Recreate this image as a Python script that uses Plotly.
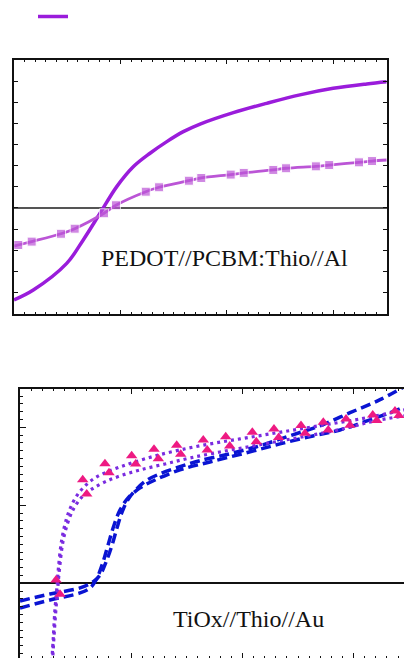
import plotly.graph_objects as go

# ---------------- top panel data ----------------
top_solid_x = [-0.4, -0.3275, -0.202, -0.140, -0.077, -0.014, 0.048, 0.111, 0.174,
               0.236, 0.299, 0.424, 0.549, 0.674, 0.799, 0.925, 1.0]
top_solid_y = [-4.35, -3.88, -2.62, -1.51, -0.25, 1.01, 1.95, 2.59, 3.14,
               3.61, 3.97, 4.51, 4.95, 5.35, 5.66, 5.87, 5.97]

top_sq_x = [-0.4, -0.384, -0.3335, -0.2235, -0.172, -0.062, -0.017, 0.095, 0.145, 0.257,
            0.3035, 0.414, 0.463, 0.574, 0.622, 0.734, 0.784, 0.896, 0.945, 1.0]
top_sq_y = [-1.80, -1.75, -1.59, -1.22, -0.98, -0.25, 0.13, 0.77, 0.98, 1.29,
            1.42, 1.58, 1.66, 1.80, 1.88, 1.97, 2.03, 2.16, 2.22, 2.27]

# ---------------- bottom panel data ----------------
blue_a_x = [-0.5, -0.365, -0.230, -0.172, -0.140, -0.113, -0.086, -0.064, -0.042, -0.015,
            0.0216, 0.0666, 0.1295, 0.219, 0.309, 0.444, 0.579, 0.714, 0.849, 0.984, 1.119, 1.227]
blue_a_y = [-2.27, -1.37, -0.60, 0.17, 1.06, 2.73, 4.91, 7.09, 9.04, 10.71,
            11.99, 13.14, 14.04, 14.94, 15.71, 16.60, 17.63, 18.91, 20.19, 21.86, 23.53, 25.19]

blue_b_x = [-0.5, -0.365, -0.230, -0.185, -0.158, -0.131, -0.104, -0.077, -0.050, -0.014,
            0.040, 0.107, 0.219, 0.354, 0.516, 0.669, 0.817, 0.939, 1.060, 1.150, 1.227]
blue_b_y = [-3.17, -2.14, -1.24, -0.60, 0.42, 2.35, 4.91, 7.47, 9.40, 10.94,
            12.22, 13.24, 14.53, 15.55, 16.71, 17.86, 18.88, 19.65, 20.81, 21.71, 22.60]

dot_a_x = [-0.357, -0.350, -0.343, -0.335, -0.328, -0.3125, -0.290, -0.2675, -0.239, -0.203,
           -0.163, -0.109, -0.050, 0.017, 0.107, 0.219, 0.354, 0.489, 0.624, 0.759,
           0.894, 1.029, 1.164, 1.227]
dot_a_y = [-10.0, -6.85, -3.42, -0.86, 1.71, 5.55, 8.37, 10.04, 11.45, 12.60,
           13.50, 14.27, 14.91, 15.55, 16.32, 17.09, 17.86, 18.50, 19.14, 19.78,
           20.42, 21.06, 21.83, 22.22]

dot_b_x = [-0.354, -0.347, -0.338, -0.331, -0.322, -0.307, -0.284, -0.257, -0.221, -0.176,
           -0.118, -0.050, 0.040, 0.152, 0.264, 0.399, 0.5365, 0.669, 0.817, 0.970,
           1.096, 1.227]
dot_b_y = [-10.15, -6.76, -3.17, -0.86, 1.96, 5.29, 7.86, 9.65, 11.06, 12.09,
           12.99, 13.76, 14.53, 15.29, 16.06, 16.83, 17.54, 18.24, 19.01, 19.91,
           20.81, 21.45]

tri_x = [-0.338, -0.218, -0.118, 0.002, 0.1025, 0.2046, 0.324, 0.425, 0.5445, 0.642,
         0.7635, 0.8638, 0.966, 1.086, 1.186,
         -0.320, -0.200, -0.0998, 0.020, 0.122, 0.2226, 0.342, 0.443, 0.5625, 0.663,
         0.7815, 0.886, 0.984, 1.104, 1.204]
tri_y = [0.42, 13.26, 15.31, 16.36, 17.18, 17.69, 18.37, 18.79, 19.36, 19.78,
         20.21, 20.64, 21.06, 21.58, 22.09,
         -1.41, 11.45, 14.18, 15.29, 15.97, 16.54, 17.09, 17.60, 18.15, 18.67,
         19.23, 19.65, 20.26, 20.85, 21.49]

label_top = "PEDOT//PCBM:Thio//Al"
label_bottom = "TiOx//Thio//Au"

W, H = 404, 658

fig = go.Figure()

# top panel
fig.add_trace(go.Scatter(x=top_solid_x, y=top_solid_y, mode="lines", line_shape="spline",
                         line=dict(color="#9A1CDB", width=3.5), name=" ", showlegend=True,
                         xaxis="x", yaxis="y"))
fig.add_trace(go.Scatter(x=top_sq_x, y=top_sq_y, mode="lines+markers", line_shape="spline",
                         line=dict(color="#BB55D6", width=2.8),
                         marker=dict(symbol="square", color="#BB55D6",
                                     size=[0] + [9] * (len(top_sq_x) - 2) + [0]),
                         showlegend=False, xaxis="x", yaxis="y"))

# bottom panel
fig.add_trace(go.Scatter(x=blue_a_x, y=blue_a_y, mode="lines", line_shape="spline",
                         line=dict(color="#0A14D2", width=3.5, dash="10px,5px"),
                         showlegend=False, xaxis="x2", yaxis="y2"))
fig.add_trace(go.Scatter(x=blue_b_x, y=blue_b_y, mode="lines", line_shape="spline",
                         line=dict(color="#0A14D2", width=3.5, dash="10px,5px"),
                         showlegend=False, xaxis="x2", yaxis="y2"))
fig.add_trace(go.Scatter(x=dot_a_x, y=dot_a_y, mode="lines", line_shape="spline",
                         line=dict(color="#7A2BE0", width=3.2, dash="3px,4px"),
                         showlegend=False, xaxis="x2", yaxis="y2"))
fig.add_trace(go.Scatter(x=dot_b_x, y=dot_b_y, mode="lines", line_shape="spline",
                         line=dict(color="#7A2BE0", width=3.2, dash="3px,4px"),
                         showlegend=False, xaxis="x2", yaxis="y2"))
fig.add_trace(go.Scatter(x=tri_x, y=tri_y, mode="markers",
                         marker=dict(symbol="triangle-up", color="#EE1A82", size=10),
                         showlegend=False, xaxis="x2", yaxis="y2"))

common = dict(showgrid=False, showticklabels=False, showline=True, linecolor="#111",
              linewidth=1.5, ticks="inside", tickcolor="#111", tickwidth=1)

fig.update_layout(
    width=W, height=H, margin=dict(l=0, r=0, t=0, b=0),
    paper_bgcolor="white", plot_bgcolor="white",
    xaxis=dict(domain=[14 / W, 386.7 / W], range=[-0.4, 1.0], tick0=-0.4, dtick=0.4,
               ticklen=4, mirror="allticks", zeroline=False, anchor="y",
               minor=dict(dtick=0.04, tick0=-0.4, ticklen=2, ticks="inside", tickcolor="#111", showgrid=False),
               **common),
    yaxis=dict(domain=[(H - 313.7) / H, (H - 60) / H], range=[-5, 7], dtick=1, tick0=0,
               ticklen=4, mirror="allticks", zeroline=True, zerolinecolor="#555",
               zerolinewidth=1.5, anchor="x", **common),
    xaxis2=dict(domain=[20 / W, 1.0], range=[-0.5, 1.2266], tick0=-0.5, dtick=0.5,
                ticklen=5, mirror="allticks", zeroline=False, anchor="y2",
                minor=dict(dtick=0.05, tick0=-0.5, ticklen=2.5, ticks="inside", tickcolor="#111", showgrid=False),
                **common),
    yaxis2=dict(domain=[0, (H - 389) / H], range=[-9.58, 24.9], tick0=0, dtick=10,
                ticklen=6, mirror=False, zeroline=True, zerolinecolor="#111",
                zerolinewidth=2, anchor="x2",
                minor=dict(dtick=1, tick0=0, ticklen=3, ticks="inside", tickcolor="#111", showgrid=False),
                **common),
    legend=dict(x=33 / W, y=1 - 2 / H, xanchor="left", yanchor="top",
                bgcolor="rgba(0,0,0,0)", font=dict(size=12)),
    annotations=[
        dict(text=label_top, x=224 / W, y=(H - 258) / H, xref="paper", yref="paper",
             showarrow=False, xanchor="center", yanchor="middle",
             font=dict(family="Liberation Serif", size=24, color="#111")),
        dict(text=label_bottom, x=248.7 / W, y=(H - 618.7) / H, xref="paper", yref="paper",
             showarrow=False, xanchor="center", yanchor="middle",
             font=dict(family="Liberation Serif", size=24, color="#111")),
    ],
)

fig.write_html("out.html", config={"displayModeBar": False},
               post_script="document.body.style.margin='0px';")
